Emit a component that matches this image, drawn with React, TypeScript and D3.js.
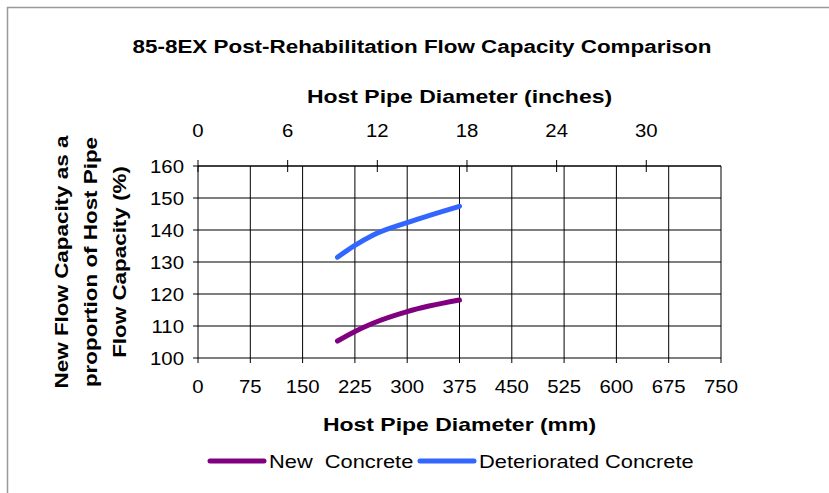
import React from "react";
import * as d3 from "d3";

const W = 829;
const H = 493;

const titleText = "85-8EX Post-Rehabilitation Flow Capacity Comparison";
const topAxisTitle = "Host Pipe Diameter (inches)";
const bottomAxisTitle = "Host Pipe Diameter (mm)";
const yTitleLines = ["New Flow Capacity as a", "proportion of Host Pipe", "Flow Capacity (%)"];

const mmTicks = [0, 75, 150, 225, 300, 375, 450, 525, 600, 675, 750];
const inchTicks = [0, 6, 12, 18, 24, 30];
const yTicks = [100, 110, 120, 130, 140, 150, 160];

const diameters = [200, 225, 250, 300, 375];
const newConcrete = [105.3, 108.3, 110.8, 114.5, 118.1];
const deterioratedConcrete = [131.5, 135.2, 138.3, 142.3, 147.4];

const seriesNames = ["New  Concrete", "Deteriorated Concrete"];
const seriesColors = ["#800080", "#3366ff"];

const FONT = "'Liberation Sans', Arial, sans-serif";

function T({ x, y, children, anchor = "middle", size = 18, bold = false, sx = 1.12, rotate = 0 }: any) {
  return (
    <text
      transform={`translate(${x},${y}) rotate(${rotate}) scale(${sx},1)`}
      textAnchor={anchor}
      fontFamily={FONT}
      fontSize={size}
      fontWeight={bold ? "bold" : "normal"}
      fill="#000"
      style={{ whiteSpace: "pre" }}
    >
      {children}
    </text>
  );
}

export default function App() {
  const left = 198, right = 721, top = 166, bottom = 358;
  const x = d3.scaleLinear().domain([0, 750]).range([left, right]);
  const xIn = d3.scaleLinear().domain([0, 35]).range([left, right]);
  const y = d3.scaleLinear().domain([100, 160]).range([bottom, top]);

  const line = d3
    .line<[number, number]>()
    .x((d) => x(d[0]))
    .y((d) => y(d[1]))
    .curve(d3.curveMonotoneX);

  const series = [newConcrete, deterioratedConcrete].map((vals) =>
    diameters.map((d, i) => [d, vals[i]] as [number, number])
  );

  const cx = (left + right) / 2;

  return (
    <svg width={W} height={H} style={{ position: "absolute", left: 0, top: 0, background: "#fff" }}>
      <rect x={0} y={0} width={W} height={H} fill="#fff" />
      {/* outer border */}
      <line x1={7} y1={7.5} x2={W} y2={7.5} stroke="#999" strokeWidth={1.5} />
      <line x1={7.5} y1={7} x2={7.5} y2={H} stroke="#999" strokeWidth={1.5} />

      <T x={422} y={52.5} size={19} bold sx={1.18}>{titleText}</T>
      <T x={cx} y={103} size={19} bold sx={1.21}>{topAxisTitle}</T>

      {/* horizontal gridlines */}
      {yTicks.map((t) => (
        <line key={"h" + t} x1={left - 5} x2={right} y1={y(t)} y2={y(t)} stroke="#555" strokeWidth={1.4} />
      ))}
      {/* vertical gridlines */}
      {mmTicks.map((t) => (
        <line key={"v" + t} x1={x(t)} x2={x(t)} y1={top} y2={bottom + 5} stroke="#000" strokeWidth={1} />
      ))}
      {/* top border */}
      <line x1={left} x2={right} y1={top} y2={top} stroke="#000" strokeWidth={1.2} />
      {/* top axis ticks */}
      {inchTicks.map((t) => (
        <line key={"ti" + t} x1={xIn(t)} x2={xIn(t)} y1={top - 6} y2={top + 6} stroke="#000" strokeWidth={1} />
      ))}

      {/* data lines */}
      {series.map((s, i) => (
        <path key={"s" + i} d={line(s) || ""} fill="none" stroke={seriesColors[i]} strokeWidth={5} strokeLinecap="round" />
      ))}

      {/* tick labels */}
      {yTicks.map((t) => (
        <T key={"yl" + t} x={184} y={y(t) + 6.5} anchor="end" size={18.5} sx={1.1}>{t}</T>
      ))}
      {mmTicks.map((t) => (
        <T key={"xl" + t} x={x(t)} y={393} size={18.5} sx={1.1}>{t}</T>
      ))}
      {inchTicks.map((t) => (
        <T key={"il" + t} x={xIn(t)} y={137} size={18.5} sx={1.1}>{t}</T>
      ))}

      <T x={cx} y={430.5} size={19} bold sx={1.21}>{bottomAxisTitle}</T>

      {yTitleLines.map((l, i) => (
        <T key={"yt" + i} x={68 + i * 29} y={262} size={19} bold sx={1.18} rotate={-90}>{l}</T>
      ))}

      {/* legend */}
      {seriesNames.map((n, i) => {
        const lx = i === 0 ? 210 : 420;
        return (
          <g key={"lg" + i}>
            <line x1={lx} x2={lx + 54} y1={461} y2={461} stroke={seriesColors[i]} strokeWidth={5} strokeLinecap="round" />
            <T x={lx + 59} y={468} anchor="start" size={18.5} sx={1.18}>{n}</T>
          </g>
        );
      })}
    </svg>
  );
}
